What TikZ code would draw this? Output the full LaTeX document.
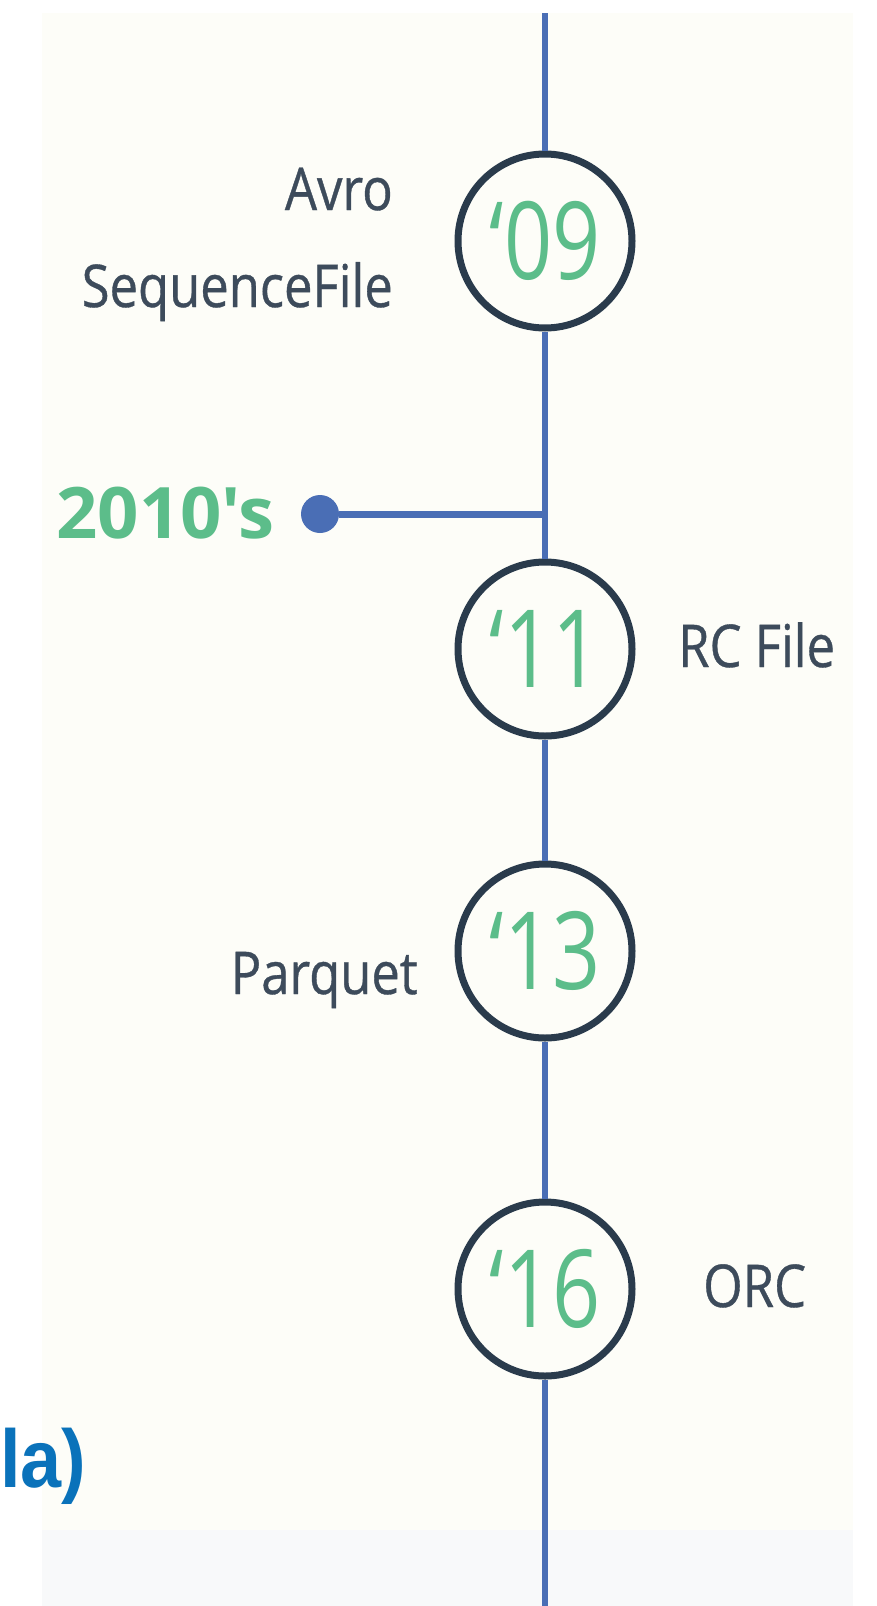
\documentclass[tikz,border=0pt]{standalone}
\usepackage{fontspec}
\newfontfamily\labelfont[FakeStretch=0.86, FakeBold=0.6]{Open Sans}
\newfontfamily\decadefont[FakeStretch=1.02]{Open Sans}
\newfontfamily\yearfont[FakeStretch=0.78]{Open Sans}
\newfontfamily\titlefont[FakeStretch=0.9]{Liberation Sans}
\usetikzlibrary{positioning}
\definecolor{panel}{HTML}{FDFDF8}
\definecolor{band}{HTML}{F8F9FA}
\definecolor{axis}{HTML}{4A6EB5}
\definecolor{ring}{HTML}{2A3B4C}
\definecolor{ink}{HTML}{3D4B5B}
\definecolor{leaf}{HTML}{5CBD8A}
\definecolor{title}{HTML}{0A72BA}

\begin{document}
\begin{tikzpicture}[
    x = 1pt, y = -1pt, % one unit per pixel, y downwards
    axisline/.style = {draw = axis, line width = 6pt},
    year/.style = {
        circle,
        draw = ring,
        line width = 7pt,
        fill = panel,
        minimum size = 174pt,
        inner sep = 0pt,
        outer sep = 3.5pt,
        text = leaf,
        font = \yearfont\fontsize{108}{108}\selectfont
    },
    fmt/.style = {
        text = ink,
        inner sep = 0pt,
        font = \labelfont\fontsize{59}{59}\selectfont
    },
    dot/.style = {circle, fill = axis, minimum size = 38pt, inner sep = 0pt}
]
\useasboundingbox (0,0) rectangle (877,1606);

% background panels
\fill[white] (0,0) rectangle (877,1606);
\fill[panel] (42,13) rectangle (853,1530);
\fill[band] (42,1530) rectangle (853,1606);

% timeline
\coordinate (top) at (545,13);
\coordinate (bottom) at (545,1606);
\coordinate (join) at (545,514);

\node[year] (y09) at (545,241) {‘09};
\node[year] (y11) at (545,649) {‘11};
\node[year] (y13) at (545,951) {‘13};
\node[year] (y16) at (545,1289) {‘16};

\node[dot] (d10) at (320,514) {};
\node[anchor = base east, inner sep = 0pt, text = leaf,
      font = \decadefont\bfseries\fontsize{71}{71}\selectfont] (decade) at (275,538) {2010's};

\path[axisline] (top) -- (y09);
\path[axisline] (y09) -- (y11);
\path[axisline] (y11) -- (y13);
\path[axisline] (y13) -- (y16);
\path[axisline] (y16) -- (bottom);
\path[axisline, line width = 7pt] (d10) -- (join);

% formats
\node[fmt, anchor = base east] (avro) at (393,210) {Avro};
\node[fmt, anchor = base east] (seqfile) at (393,307) {SequenceFile};
\node[fmt, anchor = base west] (rcfile) at (678,667) {RC File};
\node[fmt, anchor = base east] (parquet) at (418,994) {Parquet};
\node[fmt, anchor = base west] (orc) at (703,1307) {ORC};

% cut-off heading
\node[anchor = base west, inner sep = 0pt, text = title,
      font = \titlefont\bfseries\fontsize{82}{82}\selectfont] (cut) at (0,1487) {la)};

\end{tikzpicture}
\end{document}
